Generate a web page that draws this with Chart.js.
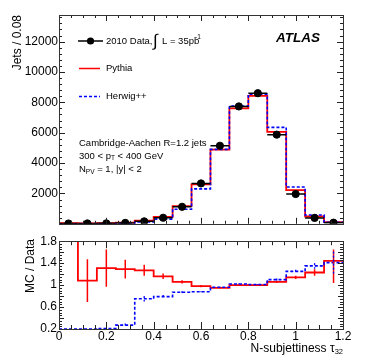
<!DOCTYPE html>
<html>
<head>
<meta charset="utf-8">
<script src="https://cdn.jsdelivr.net/npm/chart.js@4.4.0/dist/chart.umd.min.js"></script>
<style>
  html, body { margin: 0; padding: 0; background: #fff; }
  #wrap { position: relative; width: 374px; height: 359px; }
  #top { position: absolute; left: 0; top: 0; width: 374px; height: 232px; }
  #bot { position: absolute; left: 0; top: 232px; width: 374px; height: 127px; }
</style>
</head>
<body>
<div id="wrap">
  <div id="top"><canvas id="mainChart"></canvas></div>
  <div id="bot"><canvas id="ratioChart"></canvas></div>
</div>
<script>
// bins of N-subjettiness tau32 (width 0.08)
const binCenters = [0.04, 0.12, 0.20, 0.28, 0.36, 0.44, 0.52, 0.60, 0.68, 0.76, 0.84, 0.92, 1.00, 1.08, 1.16];
const binWidth = 0.08;
const xTicks = [0, 0.2, 0.4, 0.6, 0.8, 1, 1.2];
const yTicksMain = [2000, 4000, 6000, 8000, 10000, 12000];
const yTicksRatio = [0.2, 0.4, 0.6, 0.8, 1, 1.2, 1.4, 1.6, 1.8];

// jets per bin
const dataJets   = [20, 25, 30, 60, 160, 400, 1120, 2660, 5140, 7730, 8600, 5870, 1960, 390, 75];
const pythiaJets = [45, 28, 40, 80, 210, 460, 1170, 2600, 4880, 7600, 8420, 6060, 2220, 480, 105];
const herwigJets = [4, 5, 6, 16, 120, 310, 960, 2300, 4900, 7750, 8530, 6350, 2420, 580, 100];

// MC / Data
const pythiaRatio = [1.9, 1.08, 1.31, 1.29, 1.27, 1.16, 1.06, 0.98, 0.95, 1.0, 1.0, 1.06, 1.14, 1.23, 1.44];
const pythiaErrUp = [0, 0.39, 0.34, 0.17, 0.10, 0.05, 0.03, 0.02, 0.01, 0.01, 0.01, 0.02, 0.03, 0.06, 0.21];
const pythiaErrDn = [0, 0.39, 0.34, 0.17, 0.10, 0.05, 0.03, 0.02, 0.01, 0.01, 0.01, 0.02, 0.03, 0.06, 0.40];
const herwigRatio = [0.2, 0.2, 0.21, 0.27, 0.75, 0.79, 0.87, 0.88, 0.96, 1.02, 1.01, 1.1, 1.25, 1.35, 1.41];
const herwigErr   = [0, 0, 0.01, 0.03, 0.05, 0.03, 0.02, 0.01, 0.01, 0.01, 0.01, 0.02, 0.03, 0.05, 0.2];

const FONT = "'Liberation Sans', Arial, Helvetica, sans-serif";
const RED = "#ff0000";
const BLUE = "#0000ff";

// histogram outline: one point per left bin edge, plus the last right edge
function histPoints(vals) {
  const pts = binCenters.map((c, i) => ({ x: +(c - binWidth / 2).toFixed(2), y: vals[i] }));
  pts.push({ x: +(binCenters[binCenters.length - 1] + binWidth / 2).toFixed(2), y: vals[vals.length - 1] });
  return pts;
}

// ROOT-like frame with inward ticks on all four sides
const frameTicks = {
  id: "frameTicks",
  afterDraw(chart, args, opts) {
    const { ctx, chartArea: a, scales } = chart;
    ctx.save();
    ctx.strokeStyle = "#222";
    ctx.lineWidth = 1;
    function tickSet(scale, major, minor, lens, vertical) {
      const n = Math.round((scale.max - scale.min) / minor);
      for (let i = 0; i <= n; i++) {
        const v = scale.min + i * minor;
        if (v > scale.max + 1e-9) break;
        const isMajor = Math.abs(v / major - Math.round(v / major)) < 1e-6;
        const len = isMajor ? lens[0] : lens[1];
        const p = Math.round(scale.getPixelForValue(v)) + 0.5;
        ctx.beginPath();
        if (vertical) {
          ctx.moveTo(a.left, p); ctx.lineTo(a.left + len, p);
          ctx.moveTo(a.right, p); ctx.lineTo(a.right - len, p);
        } else {
          ctx.moveTo(p, a.bottom); ctx.lineTo(p, a.bottom - len);
          ctx.moveTo(p, a.top); ctx.lineTo(p, a.top + len);
        }
        ctx.stroke();
      }
    }
    tickSet(scales.x, opts.xMajor, opts.xMinor, opts.xLen, false);
    tickSet(scales.y, opts.yMajor, opts.yMinor, opts.yLen, true);
    ctx.strokeStyle = "#333";
    ctx.strokeRect(Math.round(a.left) + 0.5, Math.round(a.top) + 0.5,
      Math.round(a.right - a.left), Math.round(a.bottom - a.top));
    ctx.restore();
  }
};

// error bars drawn from the arrays through the scales
const errorBars = {
  id: "errorBars",
  afterDatasetsDraw(chart, args, opts) {
    const { ctx, scales: { x, y }, chartArea: a } = chart;
    ctx.save();
    ctx.beginPath();
    ctx.rect(a.left, a.top, a.right - a.left, a.bottom - a.top);
    ctx.clip();
    (opts.sets || []).forEach(s => {
      ctx.strokeStyle = s.color;
      ctx.lineWidth = s.width;
      ctx.setLineDash(s.dash || []);
      binCenters.forEach((c, i) => {
        const px = x.getPixelForValue(c);
        if (s.horizontal) {
          ctx.beginPath();
          ctx.moveTo(x.getPixelForValue(c - binWidth / 2), y.getPixelForValue(s.values[i]));
          ctx.lineTo(x.getPixelForValue(c + binWidth / 2), y.getPixelForValue(s.values[i]));
          ctx.stroke();
        }
        const up = s.up ? s.up[i] : 0, dn = s.dn ? s.dn[i] : 0;
        if (up > 0 || dn > 0) {
          ctx.beginPath();
          ctx.moveTo(px, y.getPixelForValue(s.values[i] + up));
          ctx.lineTo(px, y.getPixelForValue(s.values[i] - dn));
          ctx.stroke();
        }
      });
    });
    ctx.restore();
  }
};

// legend and labels of the upper pad
const mainText = {
  id: "mainText",
  afterDraw(chart) {
    const ctx = chart.ctx;
    ctx.save();
    ctx.fillStyle = "#000";
    ctx.textBaseline = "middle";
    ctx.textAlign = "left";

    // axis title
    ctx.save();
    ctx.translate(18, 15);
    ctx.rotate(-Math.PI / 2);
    ctx.textAlign = "right";
    ctx.font = "12px " + FONT;
    ctx.fillText("Jets / 0.08", 0, 0);
    ctx.restore();

    // legend: data
    ctx.strokeStyle = "#000";
    ctx.lineWidth = 1.5;
    ctx.beginPath(); ctx.moveTo(78, 41); ctx.lineTo(103, 41); ctx.stroke();
    ctx.beginPath(); ctx.arc(90.5, 41, 3.6, 0, Math.PI * 2); ctx.fill();
    ctx.font = "9.5px " + FONT;
    ctx.fillText("2010 Data,", 106, 41);
    ctx.font = "17px " + FONT;
    ctx.fillText("\u222B", 153, 41);
    ctx.font = "9.5px " + FONT;
    ctx.fillText("L = 35pb", 162, 41);
    ctx.font = "6.5px " + FONT;
    ctx.fillText("-1", 195, 37.5);

    // legend: Pythia
    ctx.strokeStyle = RED;
    ctx.lineWidth = 1.5;
    ctx.beginPath(); ctx.moveTo(79, 68.5); ctx.lineTo(100, 68.5); ctx.stroke();
    ctx.font = "9.5px " + FONT;
    ctx.fillText("Pythia", 106, 68.5);

    // legend: Herwig++
    ctx.strokeStyle = BLUE;
    ctx.setLineDash([3, 2]);
    ctx.beginPath(); ctx.moveTo(79, 96.5); ctx.lineTo(100, 96.5); ctx.stroke();
    ctx.setLineDash([]);
    ctx.fillText("Herwig++", 106, 96.5);

    // selection text
    ctx.fillText("Cambridge-Aachen R=1.2 jets", 79, 143.5);
    let xp = 79;
    const seg = (t, size, yy) => {
      ctx.font = size + "px " + FONT;
      ctx.fillText(t, xp, yy);
      xp += ctx.measureText(t).width;
    };
    seg("300 < p", 9.5, 156); seg("T", 6.5, 158.5); seg(" < 400 GeV", 9.5, 156);
    xp = 79;
    seg("N", 9.5, 169.5); seg("PV", 6.5, 172); seg(" = 1, |y| < 2", 9.5, 169.5);

    // ATLAS
    ctx.font = "italic bold 13.5px " + FONT;
    ctx.fillText("ATLAS", 276, 38.5);
    ctx.restore();
  }
};

const ratioText = {
  id: "ratioText",
  afterDraw(chart) {
    const ctx = chart.ctx;
    ctx.save();
    ctx.fillStyle = "#000";
    ctx.textBaseline = "middle";
    ctx.save();
    ctx.translate(31, 7);
    ctx.rotate(-Math.PI / 2);
    ctx.textAlign = "right";
    ctx.font = "12px " + FONT;
    ctx.fillText("MC / Data", 0, 0);
    ctx.restore();

    // x axis title, right aligned to the frame
    ctx.textAlign = "left";
    const main = "N-subjettiness \u03C4";
    ctx.font = "7.5px " + FONT;
    const subW = ctx.measureText("32").width;
    ctx.font = "12px " + FONT;
    const mainW = ctx.measureText(main).width;
    const x0 = chart.chartArea.right - subW - mainW;
    ctx.fillText(main, x0, 117);
    ctx.font = "7.5px " + FONT;
    ctx.fillText("32", x0 + mainW, 120);
    ctx.restore();
  }
};

Chart.defaults.font.family = FONT;
Chart.defaults.color = "#000";

// upper pad: jets per bin
new Chart(document.getElementById("mainChart"), {
  type: "line",
  data: {
    datasets: [
      {
        label: "2010 Data",
        type: "scatter",
        data: binCenters.map((c, i) => ({ x: c, y: dataJets[i] })),
        backgroundColor: "#000",
        borderColor: "#000",
        pointRadius: 3.6,
        pointHoverRadius: 3.6,
        order: 0
      },
      {
        label: "Herwig++",
        data: histPoints(herwigJets),
        stepped: "before",
        borderColor: BLUE,
        borderWidth: 1.6,
        borderDash: [3, 2],
        pointRadius: 0,
        fill: false,
        order: 1
      },
      {
        label: "Pythia",
        data: histPoints(pythiaJets),
        stepped: "before",
        borderColor: RED,
        borderWidth: 1.8,
        pointRadius: 0,
        fill: false,
        order: 2
      }
    ]
  },
  options: {
    responsive: true,
    maintainAspectRatio: false,
    animation: false,
    layout: { padding: { top: 15, right: 31, bottom: 0, left: 0 } },
    plugins: {
      legend: { display: false },
      tooltip: { enabled: false },
      frameTicks: { xMajor: 0.2, xMinor: 0.05, xLen: [6, 3], yMajor: 2000, yMinor: 400, yLen: [6, 3] },
      errorBars: { sets: [{ values: dataJets, color: "#000", width: 1.5, horizontal: true }] }
    },
    scales: {
      x: {
        type: "linear",
        min: 0,
        max: 1.2,
        grid: { display: false, drawTicks: false },
        border: { display: false },
        ticks: { display: false },
        afterFit(scale) { scale.height = 6; }
      },
      y: {
        min: 0,
        max: 13750,
        grid: { display: false, drawTicks: false },
        border: { display: false },
        afterBuildTicks(scale) { scale.ticks = yTicksMain.map(v => ({ value: v })); },
        ticks: { padding: 1, font: { size: 12 }, callback: v => String(v) },
        afterFit(scale) { scale.width = 59; }
      }
    }
  },
  plugins: [errorBars, frameTicks, mainText]
});

// lower pad: MC / Data
new Chart(document.getElementById("ratioChart"), {
  type: "line",
  data: {
    datasets: [
      {
        label: "Pythia",
        data: histPoints(pythiaRatio),
        stepped: "before",
        borderColor: RED,
        borderWidth: 1.8,
        pointRadius: 0,
        fill: false,
        order: 2
      },
      {
        label: "Herwig++",
        data: histPoints(herwigRatio),
        stepped: "before",
        borderColor: BLUE,
        borderWidth: 1.6,
        borderDash: [3, 2],
        pointRadius: 0,
        fill: false,
        order: 1
      }
    ]
  },
  options: {
    responsive: true,
    maintainAspectRatio: false,
    animation: false,
    layout: { padding: { top: 7, right: 31, bottom: 0, left: 0 } },
    plugins: {
      legend: { display: false },
      tooltip: { enabled: false },
      frameTicks: { xMajor: 0.2, xMinor: 0.05, xLen: [7, 4], yMajor: 0.2, yMinor: 0.05, yLen: [5, 3] },
      errorBars: {
        sets: [
          { values: pythiaRatio, up: pythiaErrUp, dn: pythiaErrDn, color: RED, width: 1.5 },
          { values: herwigRatio, up: herwigErr, dn: herwigErr, color: BLUE, width: 1.3, dash: [2, 2] }
        ]
      }
    },
    scales: {
      x: {
        type: "linear",
        min: 0,
        max: 1.2,
        grid: { display: false, drawTicks: false },
        border: { display: false },
        afterBuildTicks(scale) { scale.ticks = xTicks.map(v => ({ value: v })); },
        ticks: { padding: 0, maxRotation: 0, autoSkip: false, font: { size: 12 }, callback: v => String(+v.toFixed(1)) },
        afterFit(scale) { scale.height = 30; }
      },
      y: {
        min: 0.2,
        max: 1.8,
        grid: { display: false, drawTicks: false },
        border: { display: false },
        afterBuildTicks(scale) { scale.ticks = yTicksRatio.map(v => ({ value: v })); },
        ticks: { padding: 2, font: { size: 12 }, callback: v => String(+v.toFixed(1)) },
        afterFit(scale) { scale.width = 59; }
      }
    }
  },
  plugins: [errorBars, frameTicks, ratioText]
});
</script>
</body>
</html>
